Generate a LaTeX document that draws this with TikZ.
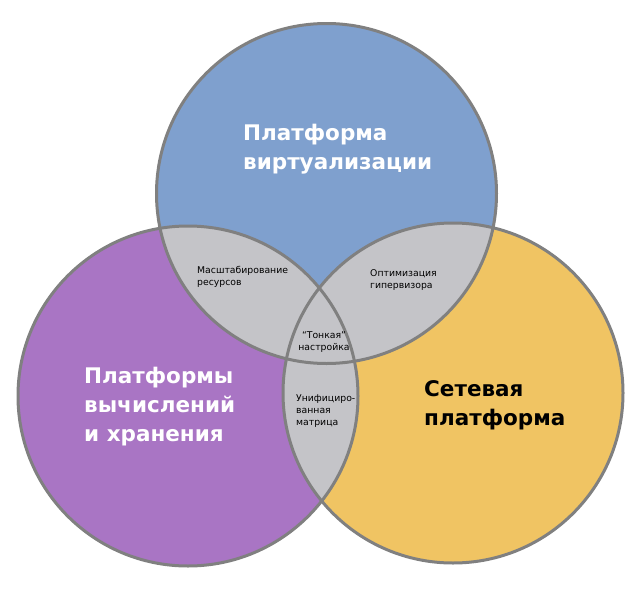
\documentclass[tikz,border=0pt]{standalone}
\usepackage{fontspec}
\setmainfont{DejaVu Sans}
\definecolor{blueC}{RGB}{127,160,206}
\definecolor{purpleC}{RGB}{169,117,196}
\definecolor{orangeC}{RGB}{240,196,99}
\definecolor{lensC}{RGB}{196,196,200}
\definecolor{rimC}{RGB}{128,128,128}
\begin{document}
\begin{tikzpicture}[x=1pt,y=-1pt,
  bigtxt/.style={font=\bfseries\fontsize{21.5}{29}\selectfont, align=left, anchor=west, inner sep=0pt},
  smalltxt/.style={font=\fontsize{9.3}{12}\selectfont, align=left, anchor=west, inner sep=0pt},
  rim/.style={draw=rimC, line width=3pt}]
\useasboundingbox[fill=white] (0,0) rectangle (640,589);
\coordinate (cb) at (326.5,193.5);
\coordinate (cp) at (188,396);
\coordinate (co) at (453,393);
% base fills
\fill[blueC] (cb) circle[radius=170pt];
\fill[purpleC] (cp) circle[radius=170pt];
\fill[orangeC] (co) circle[radius=170pt];
% pairwise overlaps
\begin{scope}
  \clip (cb) circle[radius=170pt];
  \fill[lensC] (cp) circle[radius=170pt];
  \fill[lensC] (co) circle[radius=170pt];
\end{scope}
\begin{scope}
  \clip (cp) circle[radius=170pt];
  \fill[lensC] (co) circle[radius=170pt];
\end{scope}
% outlines
\draw[rim] (cb) circle[radius=170pt];
\draw[rim] (cp) circle[radius=170pt];
\draw[rim] (co) circle[radius=170pt];
% labels
\node[bigtxt, text=white] (virt) at (243,149) {Платформа\\виртуализации};
\node[bigtxt, text=white] (comp) at (84,407) {Платформы\\вычислений\\и хранения};
\node[bigtxt, text=black] (net) at (424,405) {Сетевая\\платформа};
\node[smalltxt] (scale) at (197,277) {Масштабирование\\ресурсов};
\node[smalltxt] (hyp) at (370,280) {Оптимизация\\гипервизора};
\node[smalltxt, align=center, anchor=center] (tune) at (324,342) {“Тонкая”\\настройка};
\node[smalltxt] (fabric) at (296,411) {Унифициро-\\ванная\\матрица};
\end{tikzpicture}
\end{document}
